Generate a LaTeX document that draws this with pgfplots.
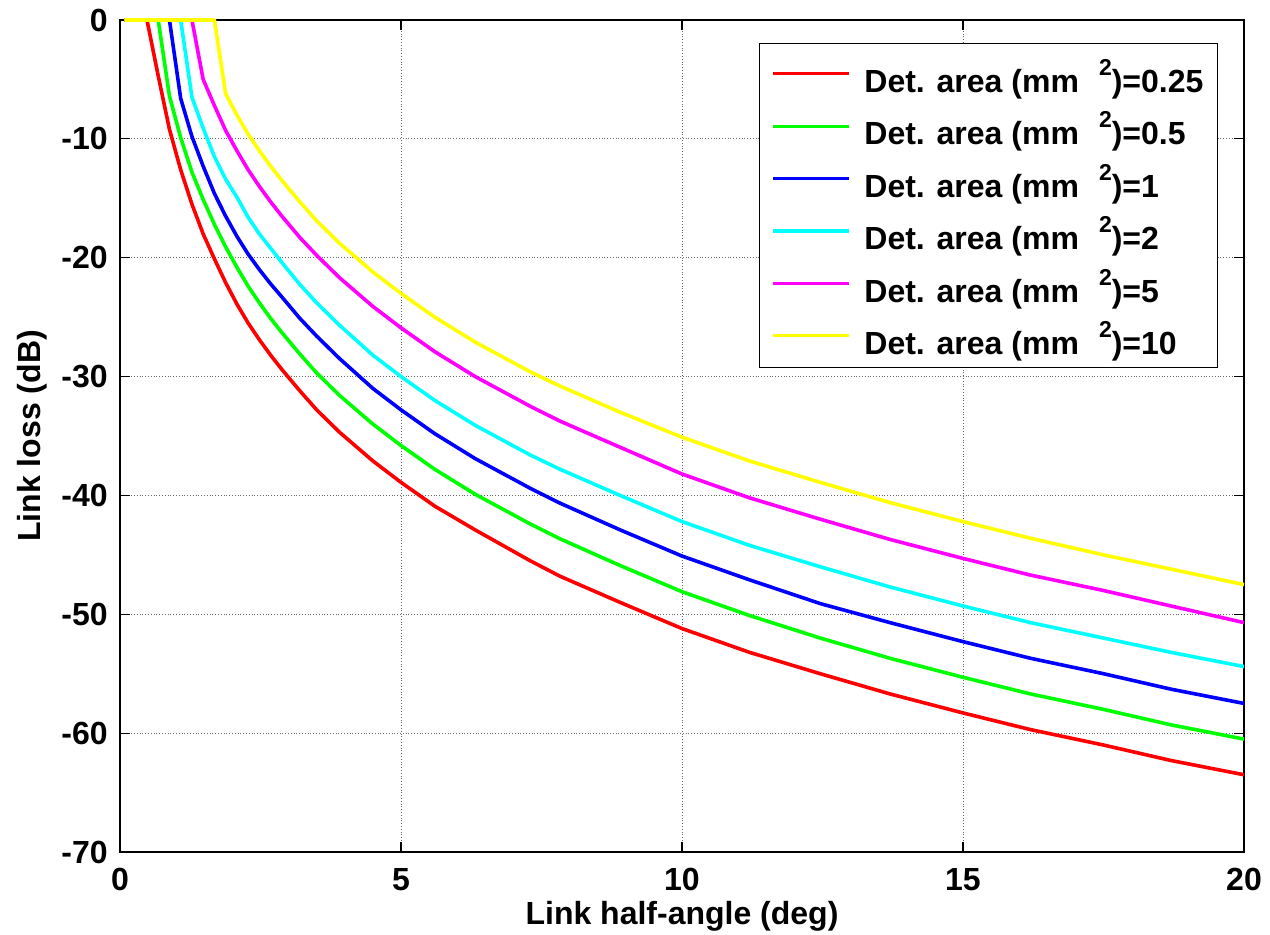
\documentclass[border=0pt]{standalone}
\usepackage{fontspec}
\setmainfont{Liberation Sans}
\usepackage{pgfplots}
\pgfplotsset{compat=1.18}
\newcommand{\lab}[1]{Det. area (mm\hspace{10pt}\raisebox{8.5pt}{\fontsize{11.5}{12}\selectfont 2})=#1\hspace{3pt}}
\begin{document}
\begin{tikzpicture}
\begin{axis}[
 scale only axis, width=562pt, height=416pt,
 xmin=0, xmax=20, ymin=-70, ymax=0,
 clip=false,
 xtick={0,5,10,15,20}, xticklabels={0,5,10,15,20},
 ytick={-70,-60,-50,-40,-30,-20,-10,0}, yticklabels={-70,-60,-50,-40,-30,-20,-10,0},
 tick align=inside, major tick length=5pt,
 tick style={black, line width=0.6pt},
 axis line style={line width=0.6pt},
 grid=major, grid style={densely dotted, black!60, line width=0.5pt},
 ticklabel style={font=\fontsize{16}{19}\selectfont\bfseries},
 xticklabel style={inner sep=0pt, anchor=north, yshift=-8pt},
 yticklabel style={inner sep=0pt, anchor=east, xshift=-6pt},
 xlabel={Link half-angle (deg)}, ylabel={Link loss (dB)},
 every axis x label/.style={at={([yshift=-32pt]axis description cs:0.5,0)}, anchor=center, font=\fontsize{16}{19}\selectfont\bfseries},
 every axis y label/.style={at={([xshift=-44pt]axis description cs:0,0.5)}, rotate=90, anchor=center, font=\fontsize{16}{19}\selectfont\bfseries},
 legend style={at={(rel axis cs:0.9769,0.9724)}, anchor=north east, draw=black, line width=0.6pt,
   font=\fontsize{16}{19}\selectfont\bfseries, inner xsep=6pt, inner ysep=5.65pt,
   row sep=6.35pt, cells={anchor=west},
   nodes={inner sep=1pt, text height=17.85pt, text depth=0pt}},
 legend image code/.code={\path[draw=none] (0pt,0pt) -- (44.5pt,0pt); \draw[#1, line width=1.6pt] (0pt,0.45pt) -- (38pt,0.45pt);},
 every axis plot/.append style={line width=1.8pt, line join=round, no markers},
]
\addplot[color={rgb,1:red,1;green,0;blue,0}] coordinates {(0.08,0)(0.48,0)(0.68,-4.7)(0.88,-9.2)(1.08,-12.6)(1.28,-15.5)(1.48,-18.0)(1.68,-20.1)(1.88,-22.1)(2.08,-23.9)(2.28,-25.5)(2.48,-26.9)(2.68,-28.2)(2.88,-29.4)(3.2,-31.2)(3.5,-32.8)(3.91,-34.7)(4.5,-37.1)(5,-38.9)(5.6,-40.9)(6.32,-42.9)(7.3,-45.5)(7.83,-46.8)(8.9,-49.0)(10,-51.2)(11.2,-53.2)(12.46,-55.0)(13.7,-56.7)(15,-58.3)(16.2,-59.7)(17.5,-61.0)(18.7,-62.3)(20,-63.5)};
\addlegendentry{\lab{0.25}}
\addplot[color={rgb,1:red,0;green,1;blue,0}] coordinates {(0.08,0)(0.68,0)(0.88,-6.4)(1.08,-9.9)(1.28,-12.8)(1.48,-15.1)(1.68,-17.2)(1.88,-19.1)(2.08,-20.8)(2.28,-22.4)(2.48,-23.8)(2.68,-25.1)(2.88,-26.3)(3.2,-28.1)(3.5,-29.7)(3.91,-31.6)(4.5,-34.0)(5,-35.8)(5.6,-37.8)(6.32,-39.9)(7.3,-42.4)(7.83,-43.65)(8.9,-45.9)(10,-48.1)(11.2,-50.1)(12.46,-52.0)(13.7,-53.7)(15,-55.3)(16.2,-56.7)(17.5,-58.0)(18.7,-59.3)(20,-60.5)};
\addlegendentry{\lab{0.5}}
\addplot[color={rgb,1:red,0;green,0;blue,1}] coordinates {(0.08,0)(0.88,0)(1.08,-6.6)(1.28,-9.8)(1.48,-12.3)(1.68,-14.6)(1.88,-16.5)(2.08,-18.2)(2.28,-19.7)(2.48,-21.0)(2.68,-22.2)(2.88,-23.3)(3.2,-25.1)(3.5,-26.6)(3.91,-28.5)(4.5,-31.0)(5,-32.8)(5.6,-34.8)(6.32,-36.9)(7.3,-39.4)(7.83,-40.65)(8.9,-42.9)(10,-45.1)(11.2,-47.1)(12.46,-49.1)(13.7,-50.7)(15,-52.3)(16.2,-53.7)(17.5,-55.0)(18.7,-56.3)(20,-57.5)};
\addlegendentry{\lab{1}}
\addplot[color={rgb,1:red,0;green,1;blue,1}] coordinates {(0.08,0)(1.08,0)(1.28,-6.5)(1.48,-9.1)(1.68,-11.5)(1.88,-13.4)(2.08,-14.9)(2.28,-16.6)(2.48,-18.0)(2.68,-19.2)(2.88,-20.4)(3.2,-22.25)(3.5,-23.8)(3.91,-25.7)(4.5,-28.2)(5,-30.0)(5.6,-32.0)(6.32,-34.1)(7.3,-36.6)(7.83,-37.8)(8.9,-40.0)(10,-42.2)(11.2,-44.2)(12.46,-46.0)(13.7,-47.7)(15,-49.3)(16.2,-50.7)(17.5,-52.0)(18.7,-53.2)(20,-54.4)};
\addlegendentry{\lab{2}}
\addplot[color={rgb,1:red,1;green,0;blue,1}] coordinates {(0.08,0)(1.28,0)(1.48,-5.0)(1.68,-7.2)(1.88,-9.3)(2.08,-11.0)(2.28,-12.6)(2.48,-14.0)(2.68,-15.3)(2.88,-16.5)(3.2,-18.3)(3.5,-19.8)(3.91,-21.7)(4.5,-24.1)(5,-25.9)(5.6,-27.9)(6.32,-30.0)(7.3,-32.5)(7.83,-33.75)(8.9,-35.95)(10,-38.2)(11.2,-40.2)(12.46,-42.0)(13.7,-43.7)(15,-45.3)(16.2,-46.7)(17.5,-48.0)(18.7,-49.3)(20,-50.7)};
\addlegendentry{\lab{5}}
\addplot[color={rgb,1:red,1;green,1;blue,0}] coordinates {(0.08,0)(1.68,0)(1.88,-6.2)(2.08,-8.0)(2.28,-9.6)(2.48,-11.0)(2.68,-12.3)(2.88,-13.5)(3.2,-15.3)(3.5,-16.9)(3.91,-18.8)(4.5,-21.2)(5,-23.0)(5.6,-25.0)(6.32,-27.1)(7.3,-29.6)(7.83,-30.8)(8.9,-33.0)(10,-35.1)(11.2,-37.1)(12.46,-38.9)(13.7,-40.6)(15,-42.2)(16.2,-43.6)(17.5,-45.0)(18.7,-46.2)(20,-47.5)};
\addlegendentry{\lab{10}}
\end{axis}
\pgfresetboundingbox
\useasboundingbox (-60pt,-41pt) rectangle (575pt,426pt);
\end{tikzpicture}
\end{document}
